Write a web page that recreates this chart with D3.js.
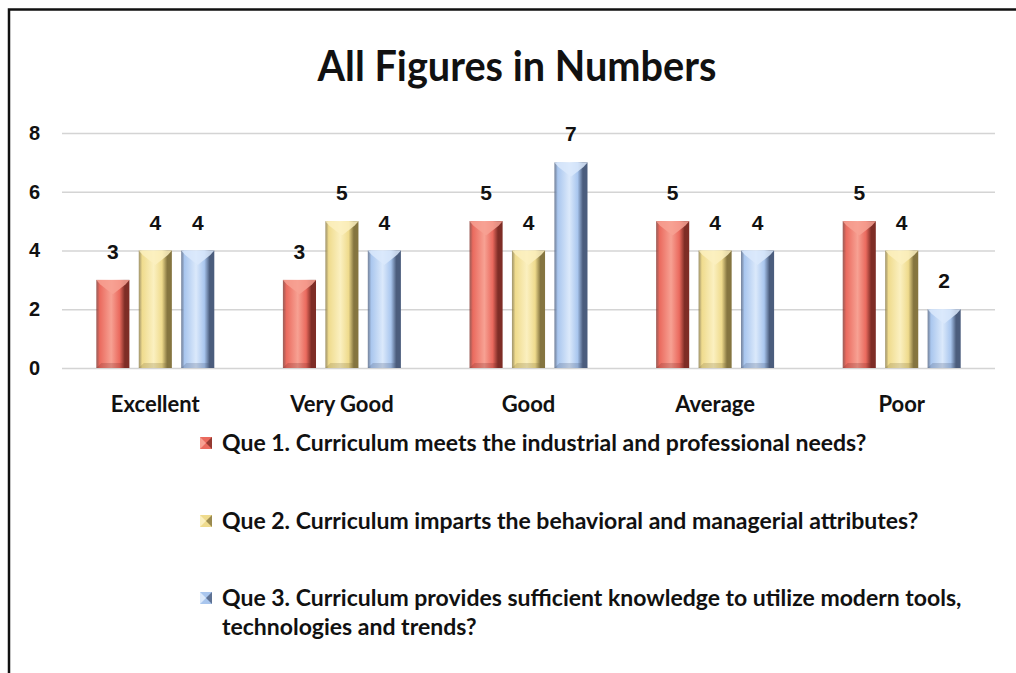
<!DOCTYPE html>
<html>
<head>
<meta charset="utf-8">
<script src="https://cdn.jsdelivr.net/npm/d3@7"></script>
<style>
  html, body { margin: 0; padding: 0; background: #fff; }
  svg { display: block; }
</style>
</head>
<body>
<script>
// Survey responses per rating category
const categories = ["Excellent", "Very Good", "Good", "Average", "Poor"];
const seriesNames = [
  "Que 1. Curriculum meets the industrial and professional needs?",
  "Que 2. Curriculum imparts the behavioral and managerial attributes?",
  "Que 3. Curriculum provides sufficient knowledge to utilize modern tools, technologies and trends?"
];
const que1 = [3, 3, 5, 5, 5];
const que2 = [4, 5, 4, 4, 4];
const que3 = [4, 4, 7, 4, 2];
const yTicks = [0, 2, 4, 6, 8];
const chartTitle = "All Figures in Numbers";

const seriesValues = [que1, que2, que3];
const palette = [
  { base: "#ea6a5e", light: "#f7a193", dark: "#7e2d26" },
  { base: "#efdb8d", light: "#fbf0c0", dark: "#857540" },
  { base: "#a9c6ee", light: "#dbe9fb", dark: "#4b5d7d" }
];

const W = 1016, H = 673;
const svg = d3.select("body").append("svg").attr("width", W).attr("height", H);
const defs = svg.append("defs");

// frame
svg.append("rect").attr("x", 9).attr("y", 9.5).attr("width", W + 20).attr("height", H + 20)
  .attr("fill", "#fff").attr("stroke", "#111").attr("stroke-width", 2.5);

const plot = { left: 62, right: 995, top: 133, bottom: 368 };

const x0 = d3.scaleBand().domain(categories).range([plot.left, plot.right]).paddingInner(0).paddingOuter(0);
const groupWidth = 118;
const x1 = d3.scaleBand().domain(d3.range(seriesValues.length))
  .range([0, groupWidth]).paddingInner(0.22);
const y = d3.scaleLinear().domain([0, 8]).range([plot.bottom, plot.top]);

// gradients for bevelled bars
palette.forEach((p, i) => {
  const g = defs.append("linearGradient").attr("id", "bar" + i)
    .attr("x1", "0").attr("x2", "1").attr("y1", "0").attr("y2", "0");
  g.append("stop").attr("offset", "0%").attr("stop-color", p.dark).attr("stop-opacity", 0.75);
  g.append("stop").attr("offset", "10%").attr("stop-color", p.base);
  g.append("stop").attr("offset", "45%").attr("stop-color", p.light);
  g.append("stop").attr("offset", "70%").attr("stop-color", p.base);
  g.append("stop").attr("offset", "86%").attr("stop-color", p.dark);
  g.append("stop").attr("offset", "100%").attr("stop-color", p.dark);
});

// title
svg.append("text").attr("x", 517).attr("y", 81).attr("text-anchor", "middle")
  .attr("font-family", "Lato, 'Open Sans', sans-serif").attr("font-weight", 700)
  .attr("font-size", 42).attr("fill", "#111")
  .attr("textLength", 399).attr("lengthAdjust", "spacingAndGlyphs")
  .text(chartTitle);

// gridlines + y axis
const yAxis = d3.axisLeft(y).tickValues(yTicks).tickSize(-(plot.right - plot.left)).tickPadding(22);
const ga = svg.append("g").attr("transform", `translate(${plot.left},0)`).call(yAxis);
ga.select(".domain").remove();
ga.selectAll(".tick line").attr("stroke", "#d4d4d4").attr("stroke-width", 1.5);
ga.selectAll(".tick text").attr("font-family", "Liberation Sans, Arial, sans-serif")
  .attr("font-weight", 700).attr("font-size", 20).attr("fill", "#111");

// x axis labels
const xAxis = d3.axisBottom(x0).tickSize(0).tickPadding(28);
const gx = svg.append("g").attr("transform", `translate(0,${plot.bottom})`).call(xAxis);
gx.select(".domain").remove();
gx.selectAll(".tick text").attr("font-family", "Lato, 'Open Sans', sans-serif")
  .attr("font-weight", 700).attr("font-size", 22).attr("fill", "#111");

// bars
const groups = svg.append("g").selectAll("g").data(categories).join("g")
  .attr("transform", c => `translate(${x0(c) + (x0.bandwidth() - groupWidth) / 2},0)`);

groups.each(function (c, ci) {
  const g = d3.select(this);
  seriesValues.forEach((vals, si) => {
    const v = vals[ci];
    const bx = x1(si), bw = x1.bandwidth();
    const top = y(v), bot = y(0);
    const p = palette[si];
    g.append("rect").attr("x", bx).attr("y", top).attr("width", bw).attr("height", bot - top)
      .attr("fill", `url(#bar${si})`);
    // top bevel (light V)
    const bev = Math.min(9, (bot - top) / 3);
    g.append("path")
      .attr("d", `M${bx},${top} L${bx + bw},${top} L${bx + bw - 4},${top + bev * 0.5} L${bx + bw / 2},${top + bev * 1.6} L${bx + 4},${top + bev * 0.5} Z`)
      .attr("fill", p.light).attr("opacity", 0.85);
    // bottom bevel (dark)
    g.append("path")
      .attr("d", `M${bx},${bot} L${bx + bw},${bot} L${bx + bw - 5},${bot - 5} L${bx + 5},${bot - 5} Z`)
      .attr("fill", p.dark).attr("opacity", 0.25);
    // value label
    g.append("text").attr("x", bx + bw / 2).attr("y", top - 21).attr("text-anchor", "middle")
      .attr("font-family", "Liberation Sans, Arial, sans-serif").attr("font-weight", 700)
      .attr("font-size", 21).attr("fill", "#111").text(v);
  });
});

// legend
const legendY = [443, 521, 598];
const legend = svg.append("g");
seriesNames.forEach((name, i) => {
  const p = palette[i];
  const ly = legendY[i];
  const mx = 200, ms = 12, my = ly - ms / 2;
  legend.append("rect").attr("x", mx).attr("y", my).attr("width", ms).attr("height", ms).attr("fill", p.base);
  legend.append("path").attr("d", `M${mx},${my} L${mx + ms / 2},${my + ms / 2} L${mx},${my + ms} Z`).attr("fill", p.light);
  legend.append("path").attr("d", `M${mx + ms},${my} L${mx + ms / 2},${my + ms / 2} L${mx + ms},${my + ms} Z`).attr("fill", p.dark).attr("opacity", 0.8);
  const t = legend.append("text").attr("x", 222).attr("y", ly + 8)
    .attr("font-family", "Lato, 'Open Sans', sans-serif").attr("font-weight", 700)
    .attr("font-size", 23).attr("fill", "#111");
  if (i === 2) {
    const cut = name.indexOf("tools,") + 6;
    t.append("tspan").attr("x", 222).text(name.slice(0, cut));
    t.append("tspan").attr("x", 222).attr("dy", 29).text(name.slice(cut + 1));
  } else {
    t.text(name);
  }
});
</script>
</body>
</html>
